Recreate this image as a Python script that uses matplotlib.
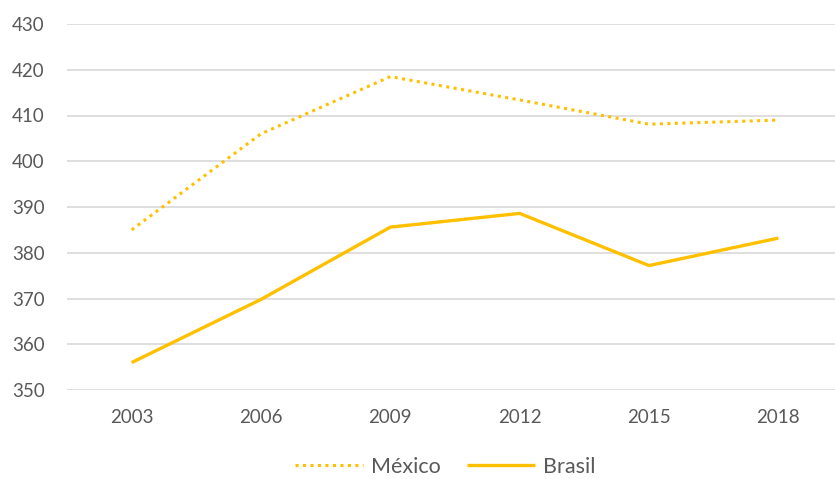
import matplotlib.pyplot as plt

years = ["2003", "2006", "2009", "2012", "2015", "2018"]
mexico = [385, 406, 418.5, 413.4, 408.1, 409]
brasil = [356, 369.8, 385.6, 388.6, 377.2, 383.2]
yticks = [350, 360, 370, 380, 390, 400, 410, 420, 430]

gold = "#FFC000"
txt = "#595959"
plt.rcParams['font.family'] = ['Lato', 'DejaVu Sans']

fig = plt.figure(figsize=(8.35, 4.79), dpi=100)
ax = fig.add_axes([67 / 835, 1 - 390 / 479, 776 / 835, 366 / 479])

x = range(len(years))
ax.plot(x, mexico, color=gold, lw=2.2, linestyle=(0, (1, 1.45)),
        dash_capstyle="butt", label="México")
ax.plot(x, brasil, color=gold, lw=2.4, solid_capstyle="butt", label="Brasil")

ax.set_xlim(-0.5, len(years) - 0.5)
ax.set_ylim(350, 430)
ax.set_yticks(yticks)
ax.set_xticks(list(x))
ax.set_xticklabels(years)
ax.grid(axis="y", color="#D9D9D9", lw=1.2)
ax.set_axisbelow(True)
for s in ax.spines.values():
    s.set_visible(False)
ax.tick_params(axis="both", length=0, labelsize=13.5, colors=txt)
ax.tick_params(axis="y", pad=16)
ax.tick_params(axis="x", pad=14)

# legend sits a bit right of centre, as in the original
fig.legend(loc="center", bbox_to_anchor=(445 / 835, 1 - 467 / 479), ncol=2,
           frameon=False, fontsize=15.5, labelcolor=txt, handlelength=3.2,
           columnspacing=1.2, handletextpad=0.35)

fig.savefig("out.png", dpi=100)
